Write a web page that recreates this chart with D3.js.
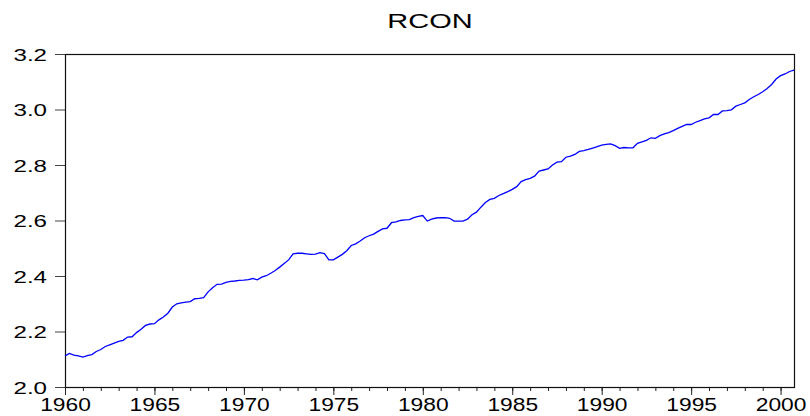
<!DOCTYPE html>
<html lang="en">
  <head>
    <meta charset="UTF-8" />
    <title>RCON</title>
    <script src="https://d3js.org/d3.v7.min.js"></script>
    <style>
      html,
      body {
        margin: 0;
        padding: 0;
        background-color: #fff;
        font-family: "Liberation Sans", Arial, sans-serif;
      }
    </style>
  </head>
  <body>
    <svg id="chart"></svg>
    <script>
      // Quarterly series, 1960Q1 .. 2000Q4
      const startYear = 1960;
      const rcon = [
        2.112, 2.121, 2.115, 2.112,
        2.108, 2.113, 2.117, 2.128,
        2.135, 2.146, 2.152, 2.158,
        2.164, 2.168, 2.180, 2.181,
        2.196, 2.208, 2.222, 2.227,
        2.228, 2.242, 2.252, 2.266,
        2.288, 2.300, 2.303, 2.306,
        2.308, 2.318, 2.319, 2.322,
        2.343, 2.358, 2.370, 2.371,
        2.377, 2.381, 2.382, 2.384,
        2.385, 2.387, 2.391, 2.386,
        2.396, 2.401, 2.410, 2.420,
        2.432, 2.445, 2.458, 2.480,
        2.482, 2.482, 2.480, 2.478,
        2.479, 2.484, 2.481, 2.458,
        2.458, 2.468, 2.478, 2.491,
        2.510, 2.516, 2.526, 2.538,
        2.545, 2.551, 2.561, 2.570,
        2.572, 2.592, 2.595, 2.600,
        2.602, 2.603, 2.610, 2.615,
        2.618, 2.598, 2.605, 2.609,
        2.610, 2.610, 2.608, 2.598,
        2.598, 2.598, 2.605, 2.621,
        2.630, 2.648, 2.665, 2.676,
        2.680, 2.690, 2.697, 2.704,
        2.712, 2.722, 2.740, 2.747,
        2.752, 2.760, 2.778, 2.782,
        2.786, 2.800, 2.810, 2.812,
        2.828, 2.832, 2.838, 2.849,
        2.852, 2.856, 2.861, 2.866,
        2.872, 2.874, 2.876, 2.870,
        2.860, 2.863, 2.862, 2.862,
        2.878, 2.883, 2.889, 2.898,
        2.896, 2.906, 2.912, 2.917,
        2.924, 2.932, 2.939, 2.946,
        2.946, 2.954, 2.960, 2.966,
        2.970, 2.982, 2.982, 2.995,
        2.996, 2.999, 3.012, 3.018,
        3.024, 3.036, 3.046, 3.054,
        3.064, 3.076, 3.090, 3.110,
        3.122, 3.128, 3.137, 3.142
      ];
      const yTicks = [2.0, 2.2, 2.4, 2.6, 2.8, 3.0, 3.2];
      const xTicks = [1960, 1965, 1970, 1975, 1980, 1985, 1990, 1995, 2000];
      const xMinor = d3.range(1960, 2001);

      const W = 810, H = 416;
      const margin = { top: 54, right: 16, bottom: 29, left: 65 };
      const width = W - margin.left - margin.right;
      const height = H - margin.top - margin.bottom;

      const data = rcon.map((v, i) => ({ t: startYear + i / 4, v }));

      const x = d3.scaleLinear()
        .domain([startYear, startYear + (rcon.length - 1) / 4])
        .range([0, width]);
      const y = d3.scaleLinear().domain([2.0, 3.2]).range([height, 0]);

      const svg = d3.select("#chart").attr("width", W).attr("height", H);
      const g = svg.append("g")
        .attr("transform", `translate(${margin.left},${margin.top})`);

      // title (reference text looks horizontally stretched)
      svg.append("text")
        .attr("transform", "translate(430,28) scale(1.38,1)")
        .attr("text-anchor", "middle")
        .attr("font-size", "21px")
        .attr("fill", "#000")
        .text("RCON");

      // y axis
      const yAxis = g.append("g")
        .call(d3.axisLeft(y).tickValues(yTicks).tickFormat(d3.format(".1f"))
          .tickSize(10).tickSizeOuter(0));
      yAxis.select(".domain").remove();
      yAxis.selectAll(".tick line").attr("stroke", "#444");
      yAxis.selectAll(".tick text")
        .attr("x", 0)
        .attr("dy", "0.36em")
        .attr("transform", "translate(-18,0) scale(1.42,1)")
        .attr("font-size", "17px")
        .attr("font-family", "Liberation Sans, Arial, sans-serif")
        .attr("fill", "#000");

      // x axis: minor yearly ticks, major every five years
      const xMinorAxis = g.append("g")
        .attr("transform", `translate(0,${height})`)
        .call(d3.axisBottom(x).tickValues(xMinor).tickFormat("")
          .tickSize(4).tickSizeOuter(0));
      xMinorAxis.select(".domain").remove();
      xMinorAxis.selectAll(".tick line").attr("stroke", "#222");

      const xAxis = g.append("g")
        .attr("transform", `translate(0,${height})`)
        .call(d3.axisBottom(x).tickValues(xTicks).tickFormat(d3.format("d"))
          .tickSize(8).tickSizeOuter(0));
      xAxis.select(".domain").remove();
      xAxis.selectAll(".tick line").attr("stroke", "#222");
      xAxis.selectAll(".tick text")
        .attr("y", 0)
        .attr("dy", 0)
        .attr("transform", "translate(0,24) scale(1.2,1)")
        .attr("font-size", "19px")
        .attr("font-family", "Liberation Sans, Arial, sans-serif")
        .attr("fill", "#000");

      // frame
      g.append("rect")
        .attr("x", 0.5)
        .attr("y", 0.5)
        .attr("width", width)
        .attr("height", height)
        .attr("fill", "none")
        .attr("stroke", "#111")
        .attr("stroke-width", 1.2);

      // series
      const line = d3.line()
        .x((d) => x(d.t))
        .y((d) => y(d.v));

      g.append("path")
        .datum(data)
        .attr("fill", "none")
        .attr("stroke", "#0000ff")
        .attr("stroke-width", 1.3)
        .attr("d", line);
    </script>
  </body>
</html>
